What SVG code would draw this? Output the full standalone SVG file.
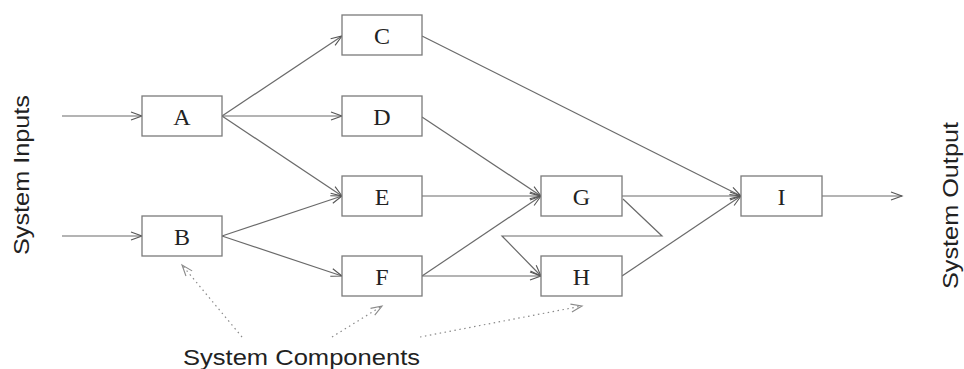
<svg xmlns="http://www.w3.org/2000/svg" width="964" height="369" viewBox="0 0 964 369">
<style>
.box{fill:#fff;stroke:#7a7a7a;stroke-width:1.3}
.lbl{font-family:"Liberation Serif","Times New Roman",serif;font-size:24px;fill:#222;text-anchor:middle}
.edge{fill:none;stroke:#6a6a6a;stroke-width:1.2}
.dot{fill:none;stroke:#8a8a8a;stroke-width:1.2;stroke-dasharray:1.5,3.5}
.cap{font-family:"Liberation Sans",Arial,sans-serif;font-size:22px;fill:#222;text-anchor:middle}
</style>
<defs>
<marker id="arr" markerUnits="userSpaceOnUse" markerWidth="14" markerHeight="12" refX="12" refY="5" orient="auto">
<path d="M1,1 L12,5 L1,9" fill="none" stroke="#555" stroke-width="1.1"/>
</marker>
<marker id="arrd" markerUnits="userSpaceOnUse" markerWidth="14" markerHeight="12" refX="12" refY="5" orient="auto">
<path d="M1,1 L12,5 L1,9" fill="none" stroke="#8a8a8a" stroke-width="1.1"/>
</marker>
</defs>
<g id="connectors">
<line class="edge" x1="62" y1="116" x2="142" y2="116" marker-end="url(#arr)"/>
<line class="edge" x1="62" y1="236" x2="142" y2="236" marker-end="url(#arr)"/>
<line class="edge" x1="222" y1="116" x2="342" y2="36" marker-end="url(#arr)"/>
<line class="edge" x1="222" y1="116" x2="342" y2="116" marker-end="url(#arr)"/>
<line class="edge" x1="222" y1="116" x2="342" y2="196" marker-end="url(#arr)"/>
<line class="edge" x1="222" y1="236" x2="342" y2="196" marker-end="url(#arr)"/>
<line class="edge" x1="222" y1="236" x2="342" y2="276" marker-end="url(#arr)"/>
<line class="edge" x1="422" y1="36" x2="741" y2="196" marker-end="url(#arr)"/>
<line class="edge" x1="422" y1="117" x2="541" y2="196" marker-end="url(#arr)"/>
<line class="edge" x1="422" y1="196" x2="541" y2="196" marker-end="url(#arr)"/>
<line class="edge" x1="422" y1="276" x2="541" y2="196" marker-end="url(#arr)"/>
<line class="edge" x1="422" y1="276" x2="541" y2="276" marker-end="url(#arr)"/>
<line class="edge" x1="622" y1="196" x2="741" y2="196" marker-end="url(#arr)"/>
<line class="edge" x1="622" y1="276" x2="741" y2="196" marker-end="url(#arr)"/>
<polyline class="edge" points="623,199 662,236 502,236 541,276" marker-end="url(#arr)"/>
<line class="edge" x1="822" y1="196" x2="902" y2="196" marker-end="url(#arr)"/>
<line class="dot" x1="242" y1="337" x2="182" y2="265" marker-end="url(#arrd)"/>
<line class="dot" x1="332" y1="337" x2="382" y2="306" marker-end="url(#arrd)"/>
<line class="dot" x1="420" y1="337" x2="582" y2="306" marker-end="url(#arrd)"/>
</g>
<g id="A"><rect class="box" x="142" y="96" width="80" height="40"/><text class="lbl" x="182" y="125">A</text></g>
<g id="B"><rect class="box" x="142" y="216" width="80" height="40"/><text class="lbl" x="182" y="245">B</text></g>
<g id="C"><rect class="box" x="342" y="15" width="80" height="40"/><text class="lbl" x="382" y="44">C</text></g>
<g id="D"><rect class="box" x="342" y="96" width="80" height="40"/><text class="lbl" x="382" y="125">D</text></g>
<g id="E"><rect class="box" x="342" y="176" width="80" height="40"/><text class="lbl" x="382" y="205">E</text></g>
<g id="F"><rect class="box" x="342" y="256" width="80" height="40"/><text class="lbl" x="382" y="285">F</text></g>
<g id="G"><rect class="box" x="541" y="176" width="81" height="40"/><text class="lbl" x="581.5" y="205">G</text></g>
<g id="H"><rect class="box" x="541" y="256" width="81" height="40"/><text class="lbl" x="581.5" y="285">H</text></g>
<g id="I"><rect class="box" x="741" y="176" width="81" height="40"/><text class="lbl" x="781.5" y="205">I</text></g>
<g id="labels">
<text class="cap" transform="translate(29,175) rotate(-90)" textLength="160" lengthAdjust="spacingAndGlyphs">System Inputs</text>
<text class="cap" transform="translate(958,205.5) rotate(-90)" textLength="167" lengthAdjust="spacingAndGlyphs">System Output</text>
<text class="cap" x="301.5" y="365" textLength="237" lengthAdjust="spacingAndGlyphs">System Components</text>
</g>
</svg>
